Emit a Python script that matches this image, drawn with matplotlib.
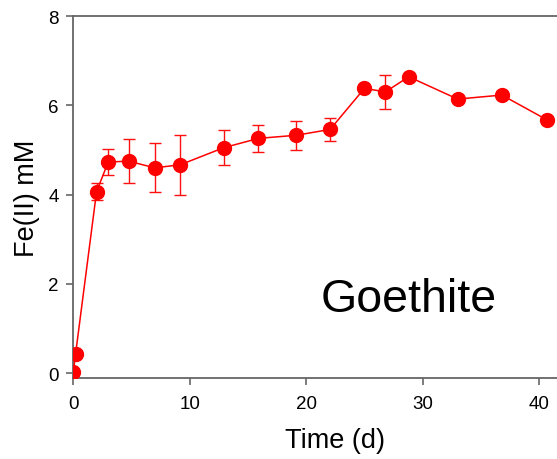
import matplotlib
matplotlib.use("Agg")
import matplotlib.pyplot as plt

plt.rcParams['font.family'] = ['Liberation Sans', 'DejaVu Sans']

time_d = [0.0, 0.2, 2.0, 3.0, 4.75, 7.0, 9.2, 12.9, 15.9, 19.15, 22.05, 25.0, 26.8, 28.8, 33.0, 36.8, 40.7]
fe_mM = [0.02, 0.44, 4.07, 4.73, 4.75, 4.60, 4.67, 5.05, 5.26, 5.33, 5.46, 6.38, 6.30, 6.64, 6.14, 6.23, 5.67]
fe_err = [0.0, 0.06, 0.2, 0.3, 0.49, 0.55, 0.67, 0.39, 0.3, 0.33, 0.25, 0.0, 0.38, 0.0, 0.0, 0.0, 0.0]
x_ticks = [0, 10, 20, 30, 40]
y_ticks = [0, 2, 4, 6, 8]

fig = plt.figure(figsize=(5.57, 4.6), dpi=100)
ax = fig.add_axes([72.7/557, 81/460, 45*11.66/557, (379-17)/460])

ax.errorbar(time_d, fe_mM, yerr=fe_err, color='#ff0000', ecolor='#ff1010',
            elinewidth=1.0, capsize=4.5, capthick=1.0,
            marker='o', markersize=10, linewidth=1.1, zorder=3)

ax.set_xlim(-0.05, 45)
ax.set_ylim(-0.105, 8)
ax.set_xticks(x_ticks)
ax.set_yticks(y_ticks)
ax.tick_params(direction='out', length=5, width=1.2, color='#666666', labelsize=13.5)
ax.tick_params(axis='y', pad=5)
ax.tick_params(axis='x', pad=7)
for s in ax.spines.values():
    s.set_color('#666666')
    s.set_linewidth(1.3)

ax.set_xlabel('Time (d)', fontsize=19.5, labelpad=11)
ax.set_ylabel('Fe(II) mM', fontsize=19.5, labelpad=6)
ax.text(28.8, 1.4, 'Goethite', fontsize=33.5, ha='center', va='baseline')

fig.savefig('out.png', dpi=100)
